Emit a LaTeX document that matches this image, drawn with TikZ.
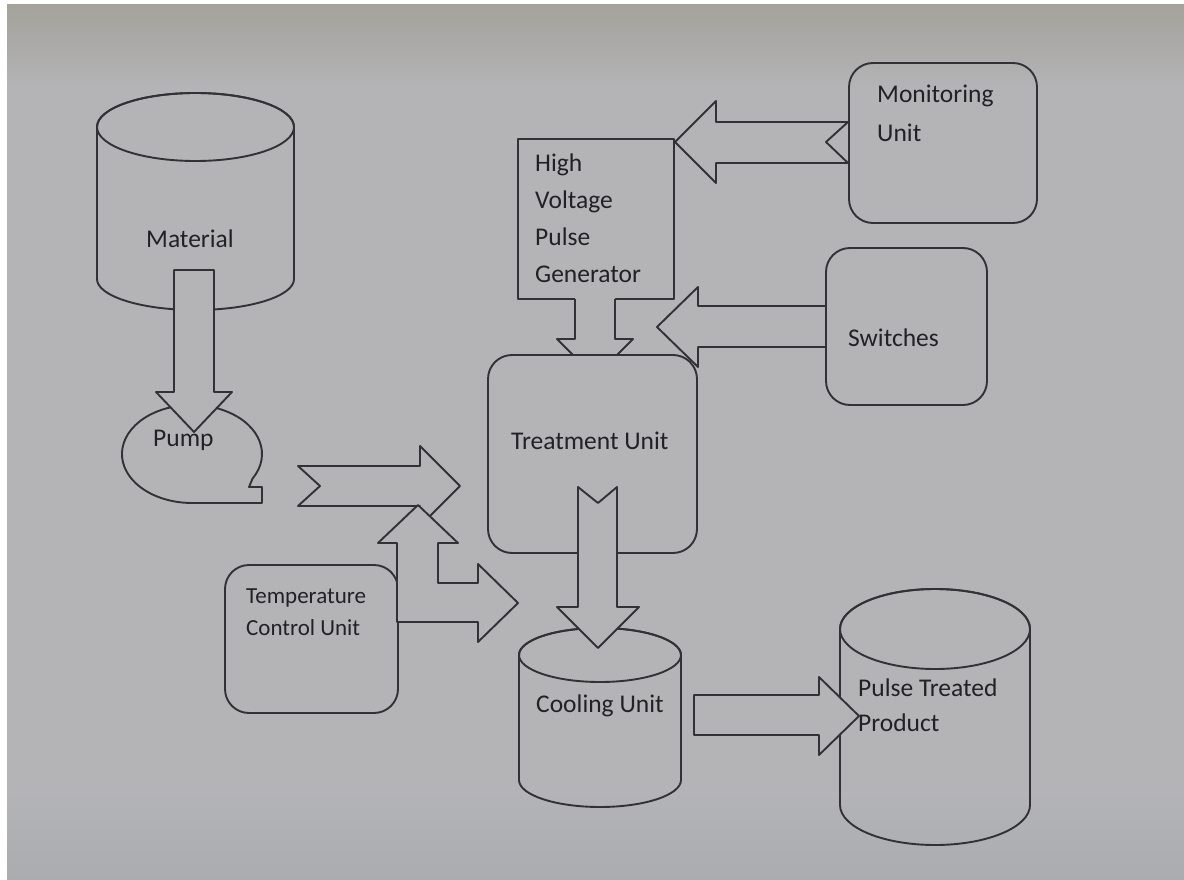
\documentclass[tikz,border=0pt]{standalone}
\usepackage{fontspec}
\setmainfont{Carlito}
\definecolor{bg}{RGB}{180,180,183}
\definecolor{bgtop}{RGB}{164,162,155}
\definecolor{bgbot}{RGB}{170,172,176}
\definecolor{ln}{RGB}{50,50,54}
\definecolor{tx}{RGB}{34,34,38}
\tikzset{
  ln/.style={draw=ln, line width=1.9pt, line join=round},
  blk/.style={ln, fill=bg},
  rbox/.style={ln, rounded corners=24pt, inner sep=0pt},
  sbox/.style={ln, inner sep=0pt},
  lbl/.style={text=tx, font=\fontsize{25.5}{37}\selectfont, inner sep=0pt, align=left, anchor=base west},
}
\begin{document}
\begin{tikzpicture}[x=1pt,y=1pt]
\useasboundingbox (0,0) rectangle (1184,-880);
\fill[white] (0,0) rectangle (1184,-880);
\fill[bg] (7,-5) rectangle (1184,-880);
\shade[top color=bgtop, bottom color=bg] (7,-5) rectangle (1184,-90);
\shade[top color=bg, bottom color=bgbot] (7,-790) rectangle (1184,-880);

% Material cylinder
\path[ln] (97,-127) -- (97,-279) arc[start angle=180, end angle=360, x radius=98.5pt, y radius=31pt] -- (294,-127) arc[start angle=0, end angle=180, x radius=98.5pt, y radius=34pt] -- cycle;
\draw[ln] (195.5,-127) ellipse[x radius=98.5pt, y radius=34pt];
\node[lbl] (mat) at (146,-247) {Material};

% Pump
\path[ln] (192,-503) -- (262,-503) -- (262,-487) -- (249,-487) -- (252.6,-478.5) arc[start angle=-30, end angle=270, x radius=70pt, y radius=49pt] -- cycle;
\node[lbl] (pump) at (153,-446) {Pump};

% Material -> Pump
\path[blk] (174,-270) -- (214,-270) -- (214,-392) -- (232,-392) -- (194,-432) -- (156,-392) -- (174,-392) -- cycle;

% Temperature control unit
\node[rbox, minimum width=173pt, minimum height=148pt] (tcu) at (311.5,-639) {};
\node[lbl, font=\fontsize{23}{32}\selectfont] (tcut) at (246,-635) {Temperature\\Control Unit};

% Pump -> Treatment
\path[blk] (298,-466) -- (420,-466) -- (420,-446) -- (460,-486) -- (420,-526) -- (420,-506) -- (298,-506) -- (320,-486) -- cycle;

% Temperature bent arrow
\path[blk] (397,-622) -- (397,-543) -- (378,-543) -- (418,-505) -- (458,-543) -- (438,-543) -- (438,-583) -- (478,-583) -- (478,-564) -- (518,-603) -- (478,-642) -- (478,-622) -- cycle;

% High voltage pulse generator
\node[sbox, minimum width=156pt, minimum height=160pt] (hv) at (596,-219) {};
\node[lbl] (hvt) at (535,-282) {High\\Voltage\\Pulse\\Generator};

% HV -> Treatment
\fill[bg] (575,-297) -- (575,-339) -- (557,-339) -- (595,-377) -- (633,-339) -- (615,-339) -- (615,-297) -- cycle;
\draw[ln] (575,-299) -- (575,-339) -- (557,-339) -- (595,-377) -- (633,-339) -- (615,-339) -- (615,-299);

% Treatment unit
\node[rbox, fill=bg, minimum width=209pt, minimum height=198pt] (tu) at (592.5,-454) {};
\node[lbl] (tut) at (511,-449) {Treatment Unit};

% Monitoring unit
\node[rbox, minimum width=188pt, minimum height=160pt] (mon) at (943,-143) {};
\node[lbl, font=\fontsize{25.5}{39}\selectfont] (mont) at (877,-142) {Monitoring\\Unit};
\path[blk] (675,-142) -- (716,-101) -- (716,-122) -- (848,-122) -- (826,-142) -- (848,-163) -- (716,-163) -- (716,-183) -- cycle;

% Switches
\node[rbox, minimum width=161pt, minimum height=157pt] (sw) at (906.5,-326.5) {};
\node[lbl] (swt) at (848,-346) {Switches};
\path[blk] (826,-306) -- (698,-306) -- (698,-287) -- (657,-327) -- (698,-367) -- (698,-347) -- (826,-347) -- cycle;

% Cooling unit
\path[ln] (519,-655) -- (519,-780) arc[start angle=180, end angle=360, x radius=81pt, y radius=27pt] -- (681,-655) arc[start angle=0, end angle=180, x radius=81pt, y radius=27pt] -- cycle;
\draw[ln] (600,-655) ellipse[x radius=81pt, y radius=27pt];
\node[lbl] (cut) at (536,-712) {Cooling Unit};

% Treatment -> Cooling
\path[blk] (578,-487) -- (598,-503) -- (617,-487) -- (617,-607) -- (639,-607) -- (598,-648) -- (557,-607) -- (578,-607) -- cycle;

% Pulse treated product
\path[ln] (840,-629) -- (840,-805) arc[start angle=180, end angle=360, x radius=95pt, y radius=40pt] -- (1030,-629) arc[start angle=0, end angle=180, x radius=95pt, y radius=40pt] -- cycle;
\draw[ln] (935,-629) ellipse[x radius=95pt, y radius=40pt];

% Cooling -> Product
\path[blk] (694,-695) -- (819,-695) -- (819,-677) -- (859,-716) -- (819,-755) -- (819,-735) -- (694,-735) -- cycle;
\node[lbl, font=\fontsize{25.5}{35}\selectfont] (ptp) at (858,-731) {Pulse Treated\\Product};
\end{tikzpicture}
\end{document}
